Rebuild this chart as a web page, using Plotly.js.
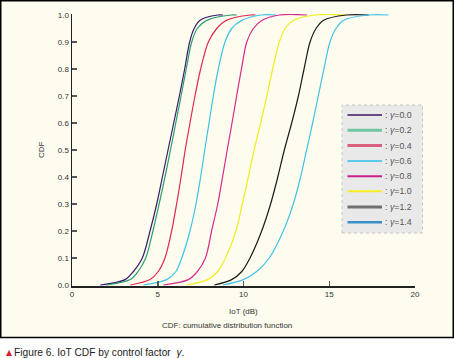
<!DOCTYPE html>
<html>
<head>
<meta charset="utf-8">
<script src="https://cdn.plot.ly/plotly-3.0.1.min.js"></script>
<style>html,body{margin:0;padding:0;background:#fff;}#chart{width:455px;height:358px;}</style>
</head>
<body>
<div id="chart"></div>
<script>
// CDF levels (shared y values for every curve)
const cdfLevels = [0, 0.02, 0.05, 0.1, 0.2, 0.3, 0.4, 0.5, 0.6, 0.7, 0.8, 0.9, 0.95, 0.98, 1.0, 1.0];
// IoT (dB) at each CDF level, per control factor gamma
const iot_g00 = [1.65, 3.1, 3.58, 4.1, 4.55, 4.94, 5.27, 5.6, 5.93, 6.26, 6.57, 6.86, 7.12, 7.45, 8.5, 8.8];
const iot_g02 = [2.0, 3.4, 3.85, 4.3, 4.72, 5.08, 5.42, 5.74, 6.05, 6.36, 6.66, 6.98, 7.3, 7.85, 9.3, 9.6];
const iot_g04 = [3.4, 4.55, 5.03, 5.42, 5.81, 6.1, 6.36, 6.6, 6.88, 7.17, 7.5, 7.95, 8.44, 9.0, 10.4, 10.7];
const iot_g06 = [4.16, 5.52, 6.06, 6.4, 6.88, 7.23, 7.5, 7.74, 7.99, 8.24, 8.53, 8.92, 9.31, 9.9, 11.0, 11.9];
const iot_g08 = [5.33, 6.78, 7.31, 7.78, 8.14, 8.5, 8.78, 9.05, 9.33, 9.6, 9.88, 10.19, 10.57, 11.06, 12.1, 13.7];
const iot_g10 = [6.7, 7.9, 8.5, 8.95, 9.56, 9.93, 10.28, 10.62, 11.0, 11.36, 11.7, 12.09, 12.42, 12.9, 14.2, 16.0];
const iot_g12 = [8.3, 9.31, 9.9, 10.38, 11.06, 11.58, 12.0, 12.38, 12.81, 13.2, 13.53, 13.88, 14.23, 14.65, 16.0, 17.3];
const iot_g14 = [8.8, 9.99, 10.77, 11.5, 12.32, 12.9, 13.33, 13.68, 14.03, 14.36, 14.69, 15.04, 15.39, 15.82, 17.3, 18.45];

const gammaLabels = ['0.0', '0.2', '0.4', '0.6', '0.8', '1.0', '1.2', '1.4'];
const seriesX = [iot_g00, iot_g02, iot_g04, iot_g06, iot_g08, iot_g10, iot_g12, iot_g14];
const curveColors = ['#3a1a6e', '#2a9d6e', '#e0284e', '#3cc4e6', '#d42a8c', '#f2ee1e', '#1a1a1a', '#44c2e6'];
const legendColors = ['#3c1361', '#6fc6a1', '#d9607e', '#5cc8ec', '#c8208a', '#f4f020', '#707070', '#3b8fc6'];
const legendWidths = [1.6, 3, 3, 2.2, 2, 2, 3, 2.4];

const xTicks = [0, 5, 10, 15, 20];
const yTicks = [0, 0.1, 0.2, 0.3, 0.4, 0.5, 0.6, 0.7, 0.8, 0.9, 1.0];

const traces = seriesX.map((xs, i) => ({
  type: 'scatter', mode: 'lines',
  x: xs, y: cdfLevels,
  name: ': γ=' + gammaLabels[i],
  line: {color: curveColors[i], width: 1.2, shape: 'spline', smoothing: 0.9},
  showlegend: false, hoverinfo: 'skip'
}));

// layout helpers: pixel -> paper coordinates
const L = 72, R = 40, T = 14, B = 72, W = 455, H = 358;
const pw = W - L - R, ph = H - T - B;
const px = p => (p - L) / pw;
const py = p => (H - B - p) / ph;

const FONT = 'Liberation Sans, Arial, sans-serif';
const shapes = [
  {type: 'rect', xref: 'paper', yref: 'paper', x0: px(0.75), x1: px(453.25), y0: py(337.5), y1: py(0.75),
   fillcolor: '#fdfcee', line: {color: '#000', width: 1.5}, layer: 'below'},
  {type: 'rect', xref: 'paper', yref: 'paper', x0: px(342), x1: px(422.5), y0: py(233), y1: py(105),
   fillcolor: '#e9e9e9', line: {color: '#c4c4c4', width: 1, dash: 'dot'}, layer: 'above'}
];
const annotations = [];
const legendY = [115, 130.3, 145.5, 161, 176.3, 191.3, 207, 222.3];
gammaLabels.forEach((g, i) => {
  shapes.push({type: 'line', xref: 'paper', yref: 'paper', x0: px(347.5), x1: px(382), y0: py(legendY[i]), y1: py(legendY[i]),
    line: {color: legendColors[i], width: legendWidths[i]}, layer: 'above'});
  annotations.push({xref: 'paper', yref: 'paper', x: px(383), y: py(legendY[i]), xanchor: 'left', yanchor: 'middle',
    text: ': <i>γ</i>=' + g, showarrow: false, font: {family: FONT, size: 8.8, color: '#555'}});
});
annotations.push(
  {xref: 'paper', yref: 'paper', x: px(243), y: py(311), xanchor: 'center', yanchor: 'middle', text: 'IoT (dB)',
   showarrow: false, font: {family: FONT, size: 8, color: '#333'}},
  {xref: 'paper', yref: 'paper', x: px(227), y: py(325.5), xanchor: 'center', yanchor: 'middle', text: 'CDF: cumulative distribution function',
   showarrow: false, font: {family: FONT, size: 8, color: '#333'}},
  {xref: 'paper', yref: 'paper', x: px(41), y: py(150), xanchor: 'center', yanchor: 'middle', text: 'CDF', textangle: -90,
   showarrow: false, font: {family: FONT, size: 8, color: '#333'}},
  {xref: 'paper', yref: 'paper', x: px(2), y: py(352), xanchor: 'left', yanchor: 'middle',
   text: '<span style="color:#d4202c">▲</span>Figure 6. IoT CDF by control factor  <i>γ</i>.',
   showarrow: false, font: {family: FONT, size: 10.2, color: '#222'}}
);

const layout = {
  width: W, height: H,
  margin: {l: L, r: R, t: T, b: B, pad: 0},
  paper_bgcolor: '#ffffff', plot_bgcolor: 'rgba(0,0,0,0)',
  showlegend: false,
  font: {family: FONT, size: 8, color: '#333'},
  xaxis: {range: [0, 20], tickvals: xTicks, ticktext: xTicks.map(String), ticks: 'inside', ticklen: 5, tickwidth: 1.5,
    tickcolor: '#555', showline: true, linecolor: '#222', linewidth: 1.5, showgrid: false, zeroline: false,
    tickfont: {family: FONT, size: 8, color: '#333'}, fixedrange: true},
  yaxis: {range: [-1/270, 1 + 1/270], tickvals: yTicks, ticktext: yTicks.map(v => v.toFixed(1)), ticks: 'inside', ticklen: 5,
    tickwidth: 1.5, tickcolor: '#555', showline: true, linecolor: '#222', linewidth: 1.5, showgrid: false, zeroline: false,
    tickfont: {family: FONT, size: 8, color: '#333'}, fixedrange: true},
  shapes: shapes, annotations: annotations
};
Plotly.newPlot('chart', traces, layout, {staticPlot: true, displayModeBar: false});
</script>
</body>
</html>
